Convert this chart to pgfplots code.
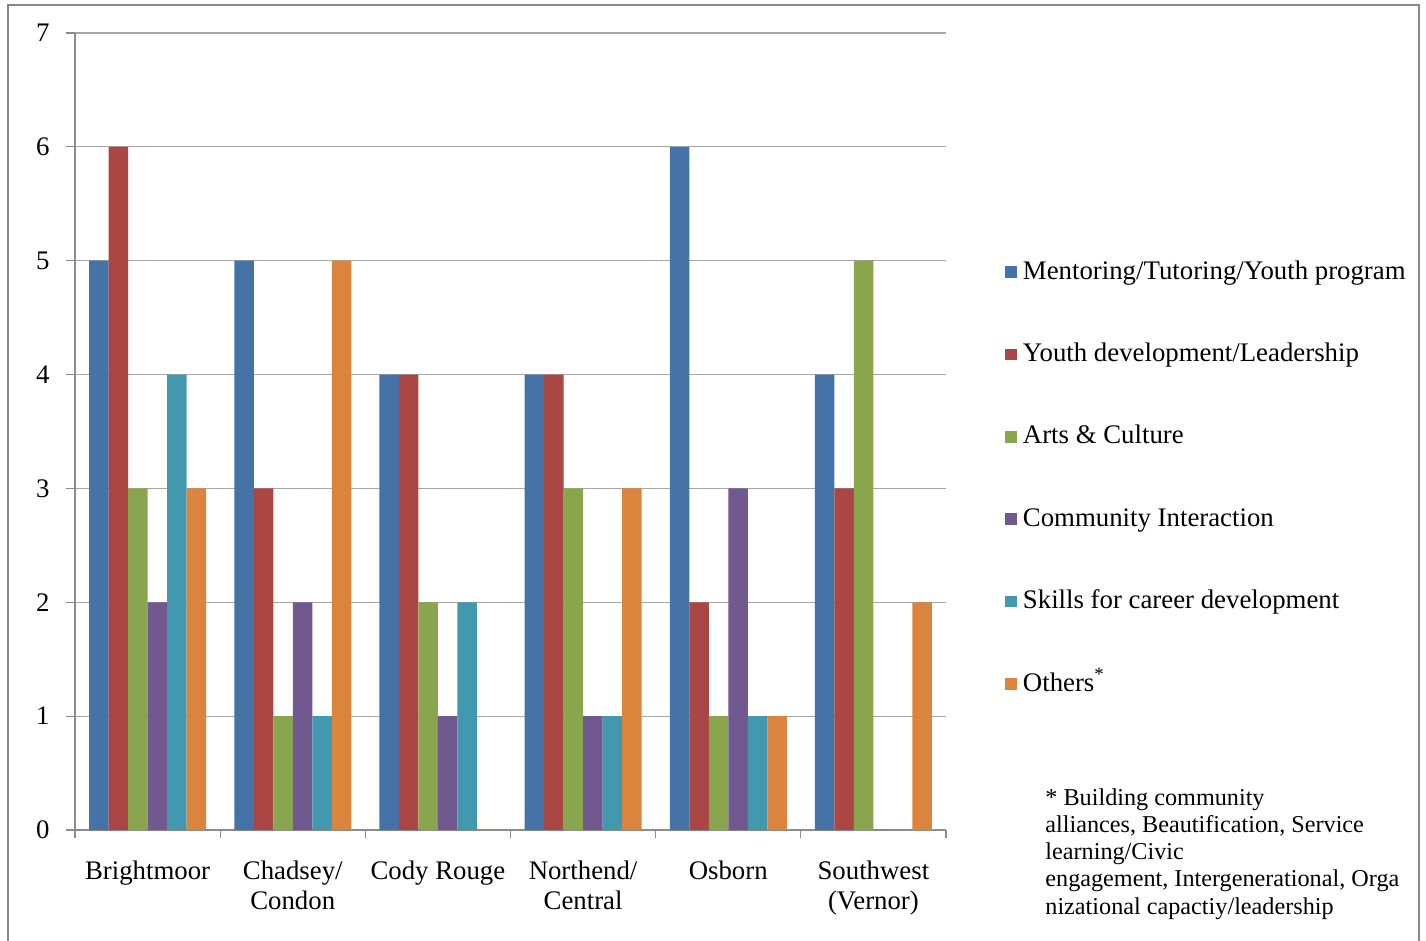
\documentclass[border=0pt]{standalone}
\usepackage{pgfplots}
\usepackage{pgfplotstable}
\pgfplotsset{compat=1.18}
\usepackage{fontspec}
\setmainfont{Liberation Serif}

\definecolor{cMent}{HTML}{4572A7}
\definecolor{cYouth}{HTML}{AA4643}
\definecolor{cArts}{HTML}{89A54E}
\definecolor{cComm}{HTML}{71588F}
\definecolor{cSkill}{HTML}{4198AF}
\definecolor{cOther}{HTML}{DB843D}
\definecolor{gridgray}{HTML}{A6A6A6}
\definecolor{axisgray}{HTML}{8C8C8C}
\definecolor{framegray}{HTML}{878787}

% Number of programs per focus area in each neighbourhood
\pgfplotstableread{
x ment youth arts comm skill other
0 5 6 3 2 4 3
1 5 3 1 2 1 5
2 4 4 2 1 2 0
3 4 4 3 1 1 3
4 6 2 1 3 1 1
5 4 3 5 0 0 2
}\datatable

\pgfplotsset{
  sq legend/.style={legend image code/.code={\fill[##1] (0pt,-2.9pt) rectangle (5.8pt,2.9pt);}},
}

\begin{document}
\begin{tikzpicture}
\useasboundingbox (0pt,0pt) rectangle (713pt,-470.5pt);
\begin{axis}[
  at={(37.5pt,-415pt)}, anchor=south west,
  scale only axis, width=435.5pt, height=398.5pt,
  xmin=-0.5, xmax=5.5, ymin=0, ymax=7,
  ybar=0pt, bar width=9.75pt,
  axis x line*=bottom, axis y line*=left,
  axis line style={draw=axisgray, line width=0.6pt, -},
  tick align=outside,
  ytick={0,...,7},
  ymajorgrids, grid style={draw=gridgray, line width=0.6pt},
  major tick length=4.5pt, minor tick length=4pt,
  ytick style={draw=axisgray, line width=0.6pt},
  xtick={0,...,5},
  xticklabels={Brightmoor, {Chadsey/\\Condon}, Cody Rouge, {Northend/\\Central}, Osborn, {Southwest\\(Vernor)}},
  major x tick style={draw=none},
  minor xtick={-0.5,0.5,...,5.5},
  minor x tick style={draw=axisgray, line width=0.6pt},
  /pgf/number format/assume math mode=true,
  tick label style={font=\fontsize{13.4}{15}\selectfont, text=black},
  yticklabel style={inner sep=0pt, anchor=east, xshift=-8pt},
  xticklabel style={align=center, inner sep=0pt, anchor=north, yshift=-10.5pt},
  legend style={at={(rel axis cs:1.0677,0.7152)}, anchor=north west,
    draw=none, fill=none, inner sep=0pt, outer sep=0pt,
    row sep=29.2pt, font=\fontsize{13.4}{15}\selectfont,
    nodes={inner sep=0pt, text height=9.5pt, text depth=2.5pt},
    /tikz/every odd column/.append style={column sep=3.2pt}},
  legend cell align=left,
  clip=false,
]
\addplot[fill=cMent, draw=none, sq legend] table[x=x, y=ment] {\datatable};
\addplot[fill=cYouth, draw=none, sq legend] table[x=x, y=youth] {\datatable};
\addplot[fill=cArts, draw=none, sq legend] table[x=x, y=arts] {\datatable};
\addplot[fill=cComm, draw=none, sq legend] table[x=x, y=comm] {\datatable};
\addplot[fill=cSkill, draw=none, sq legend] table[x=x, y=skill] {\datatable};
\addplot[fill=cOther, draw=none, sq legend] table[x=x, y=other] {\datatable};
\legend{Mentoring/Tutoring/Youth program, Youth development/Leadership, Arts \& Culture, Community Interaction, Skills for career development, Others\textsuperscript{*}}
\end{axis}
\begin{scope}[x=0.5pt, y=-0.5pt]
  \draw[framegray, line width=1pt] (8,941) -- (8,5) -- (1419,5) -- (1419,941);
  \begin{scope}[every node/.style={anchor=base west, inner sep=0pt, font=\fontsize{12.1}{13.6}\selectfont}]
    \node at (1045,805) {* Building community};
    \node at (1045,832.3) {alliances, Beautification, Service};
    \node at (1045,859.6) {learning/Civic};
    \node at (1045,886.9) {engagement, Intergenerational, Orga};
    \node at (1045,914.2) {nizational capactiy/leadership};
  \end{scope}
\end{scope}
\end{tikzpicture}
\end{document}
